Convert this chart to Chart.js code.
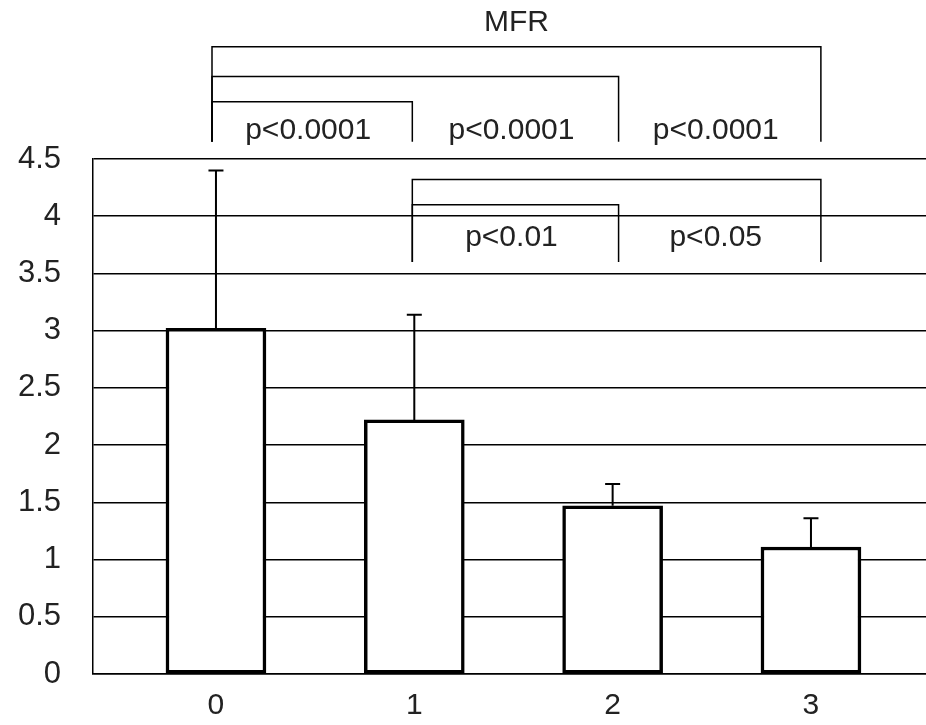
<!DOCTYPE html>
<html>
<head>
<meta charset="utf-8">
<script src="https://cdn.jsdelivr.net/npm/chart.js@4.4.0/dist/chart.umd.min.js"></script>
<style>
  html, body { margin: 0; padding: 0; background: #fff; overflow: hidden; }
  #wrap { width: 926px; height: 725px; }
</style>
</head>
<body>
<div id="wrap"><canvas id="mfrChart"></canvas></div>
<script>
const groups = [0, 1, 2, 3];
const meanMFR = [3.02, 2.22, 1.47, 1.11];
const sdMFR = [1.38, 0.92, 0.19, 0.25];
const yTicks = [0, 0.5, 1, 1.5, 2, 2.5, 3, 3.5, 4, 4.5];

// significance brackets: [from group, to group, bar height, leg bottom]
const brackets = [
  [0, 3, 5.48, 4.65],
  [0, 2, 5.22, 4.65],
  [0, 1, 5.00, 4.65],
  [1, 3, 4.32, 3.60],
  [1, 2, 4.10, 3.60]
];
const pLabels = [
  ['p<0.0001', 0, 1, 4.75],
  ['p<0.0001', 1, 2, 4.75],
  ['p<0.0001', 2, 3, 4.75],
  ['p<0.01', 1, 2, 3.81],
  ['p<0.05', 2, 3, 3.81]
];
const bracketX = [-0.02, 0.99, 2.03, 3.05];
const chartTitle = 'MFR';

const FONT = '"Liberation Sans", Arial, sans-serif';

const errorBars = {
  id: 'errorBars',
  afterDatasetsDraw(chart) {
    const { ctx, scales: { x, y } } = chart;
    ctx.save();
    ctx.strokeStyle = '#000';
    ctx.lineWidth = 2;
    groups.forEach((g, i) => {
      const px = x.getPixelForValue(g);
      const top = y.getPixelForValue(meanMFR[i] + sdMFR[i]);
      const base = y.getPixelForValue(meanMFR[i]);
      ctx.beginPath();
      ctx.moveTo(px, base);
      ctx.lineTo(px, top);
      ctx.moveTo(px - 7.5, top);
      ctx.lineTo(px + 7.5, top);
      ctx.stroke();
    });
    ctx.restore();
  }
};

const sigBrackets = {
  id: 'sigBrackets',
  afterDraw(chart) {
    const { ctx, scales: { x, y } } = chart;
    ctx.save();
    ctx.strokeStyle = '#000';
    ctx.lineWidth = 1.5;
    brackets.forEach(([a, b, h, foot]) => {
      const x1 = x.getPixelForValue(bracketX[a]);
      const x2 = x.getPixelForValue(bracketX[b]);
      const yh = y.getPixelForValue(h);
      const yf = y.getPixelForValue(foot);
      ctx.beginPath();
      ctx.moveTo(x1, yf);
      ctx.lineTo(x1, yh);
      ctx.lineTo(x2, yh);
      ctx.lineTo(x2, yf);
      ctx.stroke();
    });
    ctx.fillStyle = '#222';
    ctx.textAlign = 'center';
    ctx.textBaseline = 'middle';
    ctx.font = '30px ' + FONT;
    pLabels.forEach(([txt, a, b, h]) => {
      const cx = (x.getPixelForValue(bracketX[a]) + x.getPixelForValue(bracketX[b])) / 2;
      ctx.fillText(txt, cx - 4, y.getPixelForValue(h));
    });
    ctx.fillText(chartTitle, (x.getPixelForValue(bracketX[0]) + x.getPixelForValue(bracketX[3])) / 2,
      y.getPixelForValue(5.69));
    ctx.restore();
  }
};

new Chart(document.getElementById('mfrChart'), {
  type: 'bar',
  data: {
    datasets: [{
      data: groups.map((g, i) => ({ x: g, y: meanMFR[i] })),
      backgroundColor: '#fff',
      borderColor: '#000',
      borderWidth: 3.5,
      borderSkipped: false,
      barThickness: 100
    }]
  },
  options: {
    responsive: true,
    maintainAspectRatio: false,
    animation: false,
    layout: { padding: { top: 159, right: 0, left: 0, bottom: 0 } },
    plugins: { legend: { display: false }, tooltip: { enabled: false } },
    scales: {
      x: {
        type: 'linear',
        offset: false,
        min: -0.62,
        max: 3.58,
        afterBuildTicks(s) { s.ticks = groups.map(v => ({ value: v })); },
        afterFit(s) { s.height = 51; },
        grid: { display: false, drawTicks: false, offset: false },
        border: { display: true, color: '#000', width: 1.5 },
        ticks: { color: '#222', padding: 14, font: { family: FONT, size: 30 } }
      },
      y: {
        min: 0,
        max: 4.5,
        afterBuildTicks(s) { s.ticks = yTicks.map(v => ({ value: v })); },
        afterFit(s) { s.width = 93; },
        grid: { color: '#000', lineWidth: 1.5, drawTicks: false },
        border: { display: true, color: '#000', width: 1.5 },
        ticks: {
          color: '#222', padding: 32, font: { family: FONT, size: 31 },
          callback: v => String(v)
        }
      }
    }
  },
  plugins: [errorBars, sigBrackets]
});
</script>
</body>
</html>
